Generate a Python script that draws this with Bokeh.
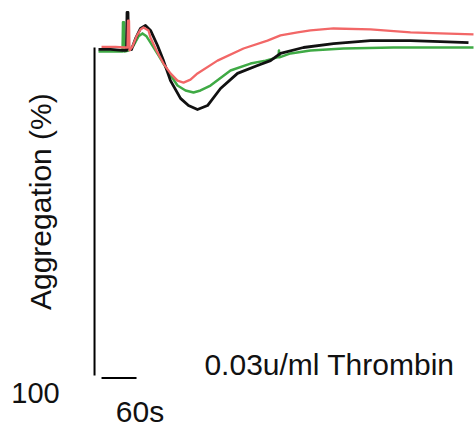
import math
from bokeh.plotting import figure
from bokeh.models import Range1d
from bokeh.core.properties import value
from bokeh.embed import file_html
from bokeh.resources import INLINE

black_t = [1.7, 22.3, 42.9, 49.7, 50.6, 52.3, 53.1, 58.3, 65.1, 73.7, 82.3, 90.9, 102.9, 113.1, 125.1,
           142.3, 156.0, 171.4, 188.6, 210.9, 240.0, 274.3, 296.6, 313.7, 353.1, 404.6, 468.0, 536.6, 588.0, 636.0]
black_a = [0.6, 0.6, 0.9, 0.9, -10.7, -10.7, 0.3, 0.6, -2.7, -5.8, -6.7, -5.2, -0.6, 4.0, 10.1,
           15.5, 17.7, 18.9, 17.7, 12.5, 7.9, 5.5, 4.0, 1.8, 0.0, -1.2, -2.1, -2.1, -1.8, -1.5]

red_t = [6.9, 30.9, 46.3, 51.4, 52.3, 54.0, 54.9, 60.0, 66.9, 73.7, 78.9, 87.4, 90.9, 101.1, 113.1, 125.1,
         137.1, 147.4, 159.4, 171.4, 205.7, 250.3, 291.4, 313.7, 342.9, 365.1, 404.6, 468.0, 536.6, 588.0, 644.6]
red_a = [-0.2, -0.2, 0.0, 0.0, -8.2, -8.2, 0.9, -0.3, -3.4, -5.5, -6.1, -5.2, -3.0, 0.9, 4.9, 7.9,
         10.1, 10.7, 9.8, 7.9, 4.0, 0.3, -2.1, -3.7, -4.6, -5.2, -5.8, -5.5, -4.6, -4.3, -4.0]

green_t = [1.7, 22.3, 39.4, 42.9, 43.7, 45.4, 46.3, 53.1, 61.7, 70.3, 77.1, 84.0, 90.9, 104.6, 120.0, 137.1,
           150.9, 164.6, 176.6, 193.7, 228.0, 262.3, 288.0, 308.6, 310.3, 311.1, 312.0, 330.9, 365.1, 421.7, 507.4, 644.6]
green_a = [1.2, 1.2, 1.2, 1.2, -7.7, -7.7, 1.2, 0.9, -0.6, -3.4, -4.3, -3.4, -1.5, 2.4, 7.0, 11.6,
           13.1, 13.7, 13.1, 11.6, 7.0, 4.9, 4.0, 3.0, 3.0, 0.9, 3.0, 1.8, 0.9, 0.3, 0.0, 0.0]

axis_min, axis_max = 0, 100
scale_start, scale_seconds = 6.9, 60
y_label = "Aggregation (%)"
scale_label = "60s"
max_label = "100"
agonist = "0.03u/ml Thrombin"

p = figure(width=474, height=435, output_backend="svg", toolbar_location=None,
           x_axis_type=None, y_axis_type=None, min_border=0,
           x_range=Range1d(-166.3, 646.3), y_range=Range1d(118.3, -14.33))
p.outline_line_color = None
p.grid.visible = False
p.background_fill_color = "white"

font = value("Liberation Sans")

# y scale line and time scale bar
p.segment(x0=[-5.1], y0=[axis_min], x1=[-5.1], y1=[axis_max], line_color="black", line_width=2)
p.segment(x0=[scale_start], y0=[100.8], x1=[scale_start + scale_seconds], y1=[100.8],
          line_color="black", line_width=2)

p.line(green_t, green_a, line_color="#3faa45", line_width=2.5, line_join="round")
p.line(black_t, black_a, line_color="#111111", line_width=2.8, line_join="round")
p.line(red_t, red_a, line_color="#f26767", line_width=2.3, line_join="round")

p.text(x=[-106.3], y=[105.2], text=[max_label], text_font=font, text_font_size="29px",
       text_align="center", text_baseline="middle", text_color="#111111")
p.text(x=[72.9], y=[111.0], text=[scale_label], text_font=font, text_font_size="30px",
       text_align="center", text_baseline="middle", text_color="#111111")
p.text(x=[397.7], y=[96.7], text=[agonist], text_font=font, text_font_size="30px",
       text_align="center", text_baseline="middle", text_color="#111111")
p.text(x=[-97.7], y=[47.0], text=[y_label], text_font=font, text_font_size="30px",
       text_align="center", text_baseline="middle", text_color="#111111", angle=math.pi / 2)

open("out.html", "w").write(file_html(p, INLINE))
